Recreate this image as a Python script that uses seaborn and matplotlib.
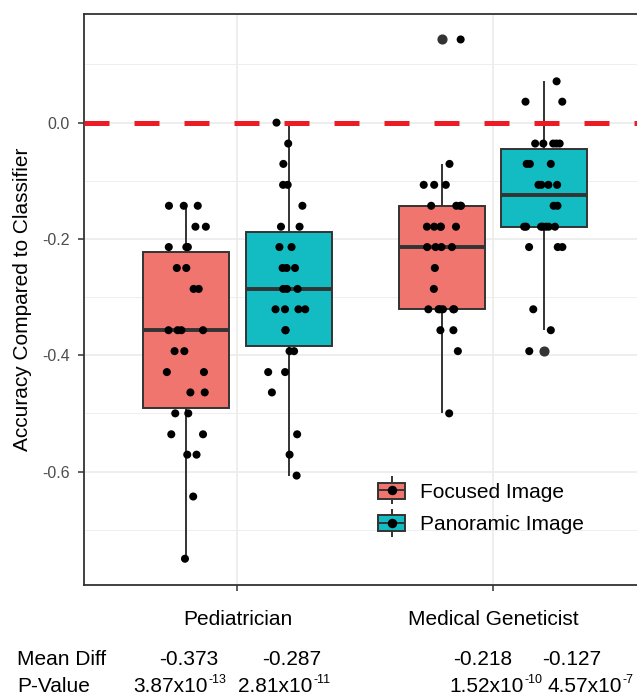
import numpy as np
import pandas as pd
import matplotlib
matplotlib.use("Agg")
import matplotlib.pyplot as plt
import matplotlib.patches as mpatches
from matplotlib.lines import Line2D
from matplotlib.ticker import FixedLocator
import seaborn as sns

plt.rcParams["font.family"] = ["Liberation Sans", "DejaVu Sans"]

groups = ["Pediatrician", "Medical Geneticist"]
image_types = ["Focused Image", "Panoramic Image"]
colors = ["#F0756E", "#13BCC3"]

# accuracy of reader minus classifier, one value per case
ped_focused = [-0.143, -0.143, -0.143, -0.179, -0.179, -0.214, -0.214, -0.214,
               -0.250, -0.250, -0.286, -0.286, -0.357, -0.357, -0.357, -0.357,
               -0.393, -0.393, -0.429, -0.429, -0.464, -0.464, -0.500, -0.500,
               -0.536, -0.536, -0.571, -0.571, -0.643, -0.750]
ped_panoramic = [0.000, -0.036, -0.071, -0.107, -0.107, -0.143, -0.179, -0.179,
                 -0.214, -0.214, -0.250, -0.250, -0.250, -0.286, -0.286, -0.286,
                 -0.321, -0.321, -0.321, -0.321, -0.357, -0.357, -0.393, -0.393,
                 -0.429, -0.429, -0.464, -0.536, -0.571, -0.607]
gen_focused = [0.143, -0.071, -0.107, -0.107, -0.107, -0.143, -0.143, -0.143,
               -0.143, -0.179, -0.179, -0.179, -0.179, -0.179, -0.214, -0.214,
               -0.214, -0.214, -0.250, -0.286, -0.321, -0.321, -0.321, -0.321,
               -0.321, -0.321, -0.357, -0.357, -0.393, -0.500]
gen_panoramic = [0.071, 0.036, 0.036, -0.036, -0.036, -0.036, -0.036, -0.036,
                 -0.071, -0.071, -0.071, -0.107, -0.107, -0.107, -0.107, -0.143,
                 -0.143, -0.179, -0.179, -0.179, -0.179, -0.179, -0.179, -0.179,
                 -0.214, -0.214, -0.214, -0.321, -0.357, -0.393]

mean_diff = ["-0.373", "-0.287", "-0.218", "-0.127"]
p_base = ["3.87x10", "2.81x10", "1.52x10", "4.57x10"]
p_exp = ["-13", "-11", "-10", "-7"]
ytick_vals = [0.0, -0.2, -0.4, -0.6]
ytick_labels = ["0.0", "-0.2", "-0.4", "-0.6"]

rows = []
for grp, img, vals in [(groups[0], image_types[0], ped_focused),
                       (groups[0], image_types[1], ped_panoramic),
                       (groups[1], image_types[0], gen_focused),
                       (groups[1], image_types[1], gen_panoramic)]:
    for v in vals:
        rows.append({"group": grp, "image": img, "diff": v})
df = pd.DataFrame(rows)

W, H = 637, 694
fig = plt.figure(figsize=(W / 100, H / 100), dpi=100)
left, right, top, bottom = 84, 646.6, 13.5, 584.7
ax = fig.add_axes([left / W, 1 - bottom / H, (right - left) / W, (bottom - top) / H])

edge = "#333333"
sns.boxplot(data=df, x="group", y="diff", hue="image", order=groups,
            hue_order=image_types, palette=colors, saturation=1,
            width=0.8, gap=0.16, dodge=True, linecolor=edge, linewidth=1.4,
            showcaps=False, whis=1.5,
            medianprops=dict(linewidth=2.8, color=edge),
            flierprops=dict(marker="o", markerfacecolor=edge,
                            markeredgecolor=edge, markersize=6.3),
            legend=False, ax=ax, zorder=2)

ax.axhline(0, color="#ED1C24", lw=3.6, dashes=(5, 5), zorder=3)

np.random.seed(7)
sns.stripplot(data=df, x="group", y="diff", hue="image", order=groups,
              hue_order=image_types, palette=["black", "black"], dodge=True,
              jitter=0.16, size=5.8, linewidth=0, legend=False, ax=ax, zorder=4)

lo, hi = df["diff"].min(), df["diff"].max()
pad = 0.05 * (hi - lo)
ax.set_ylim(lo - pad, hi + pad)
ax.set_xlim(-0.6, 1.6)

ax.set_yticks(ytick_vals)
ax.set_yticklabels(ytick_labels)
ax.yaxis.set_minor_locator(FixedLocator([0.1, -0.1, -0.3, -0.5, -0.7]))
ax.set_xticks([0, 1])
ax.set_xticklabels(groups)
ax.set_axisbelow(True)
ax.grid(which="major", color="#EBEBEB", lw=1.2)
ax.grid(which="minor", axis="y", color="#EBEBEB", lw=0.6)
ax.tick_params(which="minor", length=0)
ax.tick_params(axis="y", labelsize=11.5, labelcolor="#4D4D4D", color=edge,
               length=4, width=1.1, pad=6)
ax.tick_params(axis="x", labelsize=15, labelcolor="black", color=edge,
               length=4.5, width=1.1, pad=14)
for sp in ax.spines.values():
    sp.set_color(edge)
    sp.set_linewidth(1.3)

ax.set_xlabel("")
ax.set_ylabel("Accuracy Compared to Classifier", fontsize=15)
ax.yaxis.set_label_coords(-0.092, 0.5)

handles = []
for c in colors:
    handles.append((
        Line2D([], [], color=edge, marker="|", markersize=20, markeredgewidth=1.4,
               linestyle="none"),
        mpatches.Patch(facecolor=c, edgecolor=edge, linewidth=1.4),
        Line2D([], [], color=edge, marker="_", markersize=19, markeredgewidth=1.4,
               linestyle="none"),
        Line2D([], [], color="black", marker="o", markersize=5.8, linestyle="none"),
    ))
fig.legend(handles, image_types, loc="upper left",
           bbox_to_anchor=(378 / W, 1 - 482.6 / H), frameon=False, fontsize=15,
           borderpad=0, borderaxespad=0, handlelength=1.3, handleheight=0.82,
           handletextpad=0.72, labelspacing=0.63)

# summary table under the axis
y_mean, y_p = 665, 691.5
fig.text(17 / W, 1 - y_mean / H, "Mean Diff", fontsize=15, ha="left", va="baseline")
fig.text(17 / W, 1 - y_p / H, "P-Value", fontsize=15, ha="left", va="baseline")
for xc, txt in zip([189, 292, 483, 572], mean_diff):
    fig.text(xc / W, 1 - y_mean / H, txt, fontsize=15, ha="center", va="baseline")
for xl, base, ex in zip([133, 238, 449, 547], p_base, p_exp):
    t = fig.text(xl / W, 1 - y_p / H, base, fontsize=15, ha="left", va="baseline")
    ax.annotate(ex, xy=(1, 0), xycoords=t, xytext=(0.6, 9.0),
                textcoords="offset points", fontsize=9, ha="left",
                va="baseline", annotation_clip=False)

fig.savefig("out.png", dpi=100)
